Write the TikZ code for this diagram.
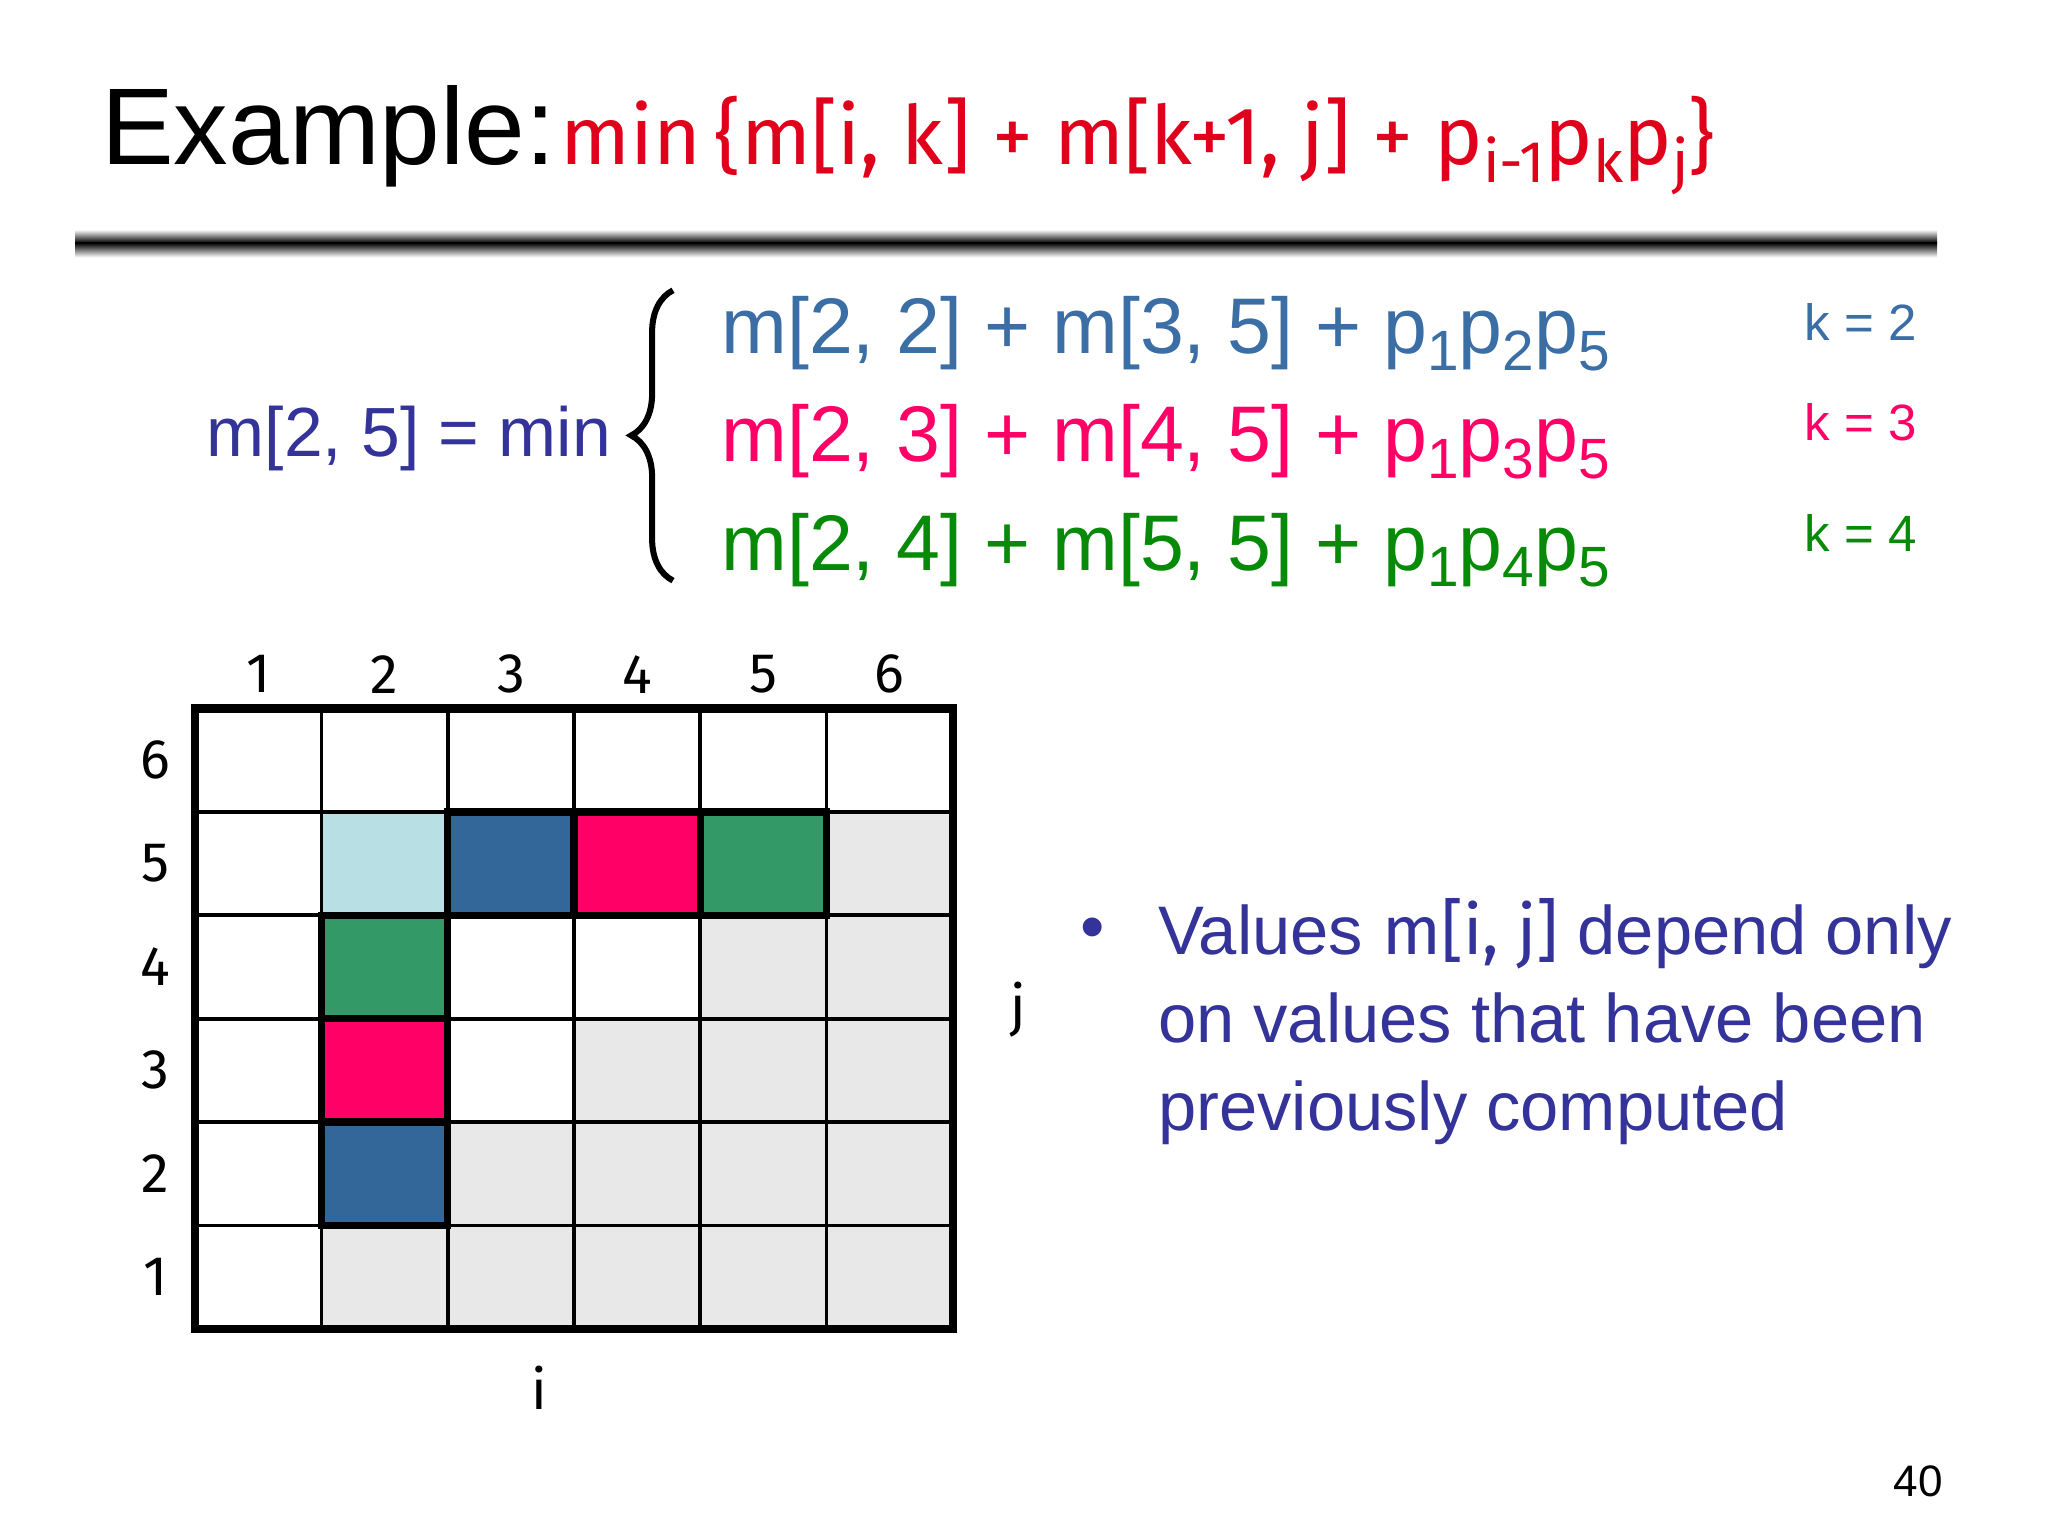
\documentclass[tikz,border=0pt]{standalone}
\usepackage{fontspec}
\setmainfont{Liberation Sans}
\newfontfamily\comic{Fira Sans}
\usetikzlibrary{decorations.pathreplacing}
\definecolor{cblue}{HTML}{336699}
\definecolor{cpink}{HTML}{FF0066}
\definecolor{cgreen}{HTML}{339966}
\definecolor{tblue}{HTML}{3A6EA5}
\definecolor{tgreen}{HTML}{078A07}
\definecolor{tpurple}{HTML}{333399}
\definecolor{lblue}{HTML}{B8E0E4}
\definecolor{lgrey}{HTML}{E8E8E8}
\definecolor{tred}{HTML}{E0001B}
\newcommand{\lowsub}[1]{\raisebox{-0.4ex}{\scalebox{0.72}{#1}}}
\tikzset{
  eq/.style={anchor=base west,font=\fontsize{17}{20}\selectfont,inner sep=0},
  klab/.style={anchor=base east,font=\fontsize{11}{13}\selectfont,inner sep=0},
  num/.style={font=\comic\fontsize{12}{14}\selectfont},
  hl/.style={line width=1.6pt}
}
\begin{document}
\begin{tikzpicture}[x=0.01cm,y=-0.01cm]
\useasboundingbox (0,0) rectangle (1552,1164);
\fill[white] (0,0) rectangle (1552,1164);
% title
\node[anchor=base west,inner sep=0,font=\fontsize{23.5}{26}\selectfont] (title) at (76,125) {Example:};
\node[anchor=base west,inner sep=0,text=tred,font=\comic\fontsize{17.6}{20}\selectfont] (tformula) at (424,125) {min\,\{m[i, k] + m[k+1, j] + p\lowsub{i-1}p\lowsub{k}p\lowsub{j}\}};
\shade[top color=white,bottom color=black] (57,174) rectangle (1468,184);
\shade[top color=black,bottom color=white] (57,184) rectangle (1468,195);
% equation
\node[anchor=base west,inner sep=0,text=tpurple,font=\fontsize{15}{18}\selectfont] (lhs) at (156,346) {m[2, 5] = min};
\draw[decorate,decoration={brace,amplitude=9pt,mirror},line width=1.3pt] (510,220) -- (510,440);
\node[eq,text=tblue] (e1) at (546,268) {m[2, 2] + m[3, 5] + p\lowsub{1}p\lowsub{2}p\lowsub{5}};
\node[eq,text=cpink] (e2) at (546,350) {m[2, 3] + m[4, 5] + p\lowsub{1}p\lowsub{3}p\lowsub{5}};
\node[eq,text=tgreen] (e3) at (546,432) {m[2, 4] + m[5, 5] + p\lowsub{1}p\lowsub{4}p\lowsub{5}};
\node[klab,text=tblue] (k1) at (1453,258) {k = 2};
\node[klab,text=cpink] (k2) at (1453,334) {k = 3};
\node[klab,text=tgreen] (k3) at (1453,418) {k = 4};
% grid cells
\foreach \i in {1,...,6}{
  \foreach \j in {1,...,6}{
    \pgfmathsetmacro{\xa}{148+(\i-1)*95.67}
    \pgfmathsetmacro{\ya}{1007-\j*78.33}
    \ifnum\i>\j
      \fill[lgrey] (\xa,\ya) rectangle ++(95.67,78.33);
    \fi
  }
}
\newcommand{\cell}[3]{\fill[#3] ({148+(#1-1)*95.67},{1007-#2*78.33}) rectangle ++(95.67,78.33);}
\cell{2}{5}{lblue}
\cell{3}{5}{cblue}\cell{4}{5}{cpink}\cell{5}{5}{cgreen}
\cell{2}{4}{cgreen}\cell{2}{3}{cpink}\cell{2}{2}{cblue}
\foreach \k in {1,...,5}{
  \draw[line width=0.8pt] ({148+\k*95.67},537) -- ({148+\k*95.67},1007);
  \draw[line width=0.8pt] (148,{537+\k*78.33}) -- (722,{537+\k*78.33});
}
\draw[hl] (243.67,693.67) rectangle (339.33,928.67);
\draw[hl] (243.67,850.33) -- (339.33,850.33);
\draw[hl] (243.67,772) -- (339.33,772);
\draw[hl] (339.33,615.33) rectangle (626.33,693.67);
\draw[hl] (435,615.33) -- (435,693.67);
\draw[hl] (530.67,615.33) -- (530.67,693.67);
\draw[line width=1.8pt] (148,537) rectangle (722,1007);
% labels
\foreach \k in {1,...,6}{
  \node[num] (c\k) at ({148+(\k-0.5)*95.67},511) {\k};
  \node[num] (r\k) at (118,{1007-(\k-0.5)*78.33}) {\k};
}
\node[num] (ilab) at (409,1052) {i};
\node[num] (jlab) at (772,765) {j};
% bullet
\node[anchor=base west,inner sep=0,text=tpurple,font=\fontsize{15}{18}\selectfont] (bul) at (818,720) {•};
\node[anchor=north west,inner sep=0,text=tpurple,align=left,font=\fontsize{14.8}{19}\selectfont] (btxt) at (877,680) {Values {\comic m[i, j]} depend only\\on values that have been\\previously computed};
\node[anchor=base east,inner sep=0,font=\fontsize{9.5}{11}\selectfont] (pg) at (1473,1134) {40};
\end{tikzpicture}
\end{document}
